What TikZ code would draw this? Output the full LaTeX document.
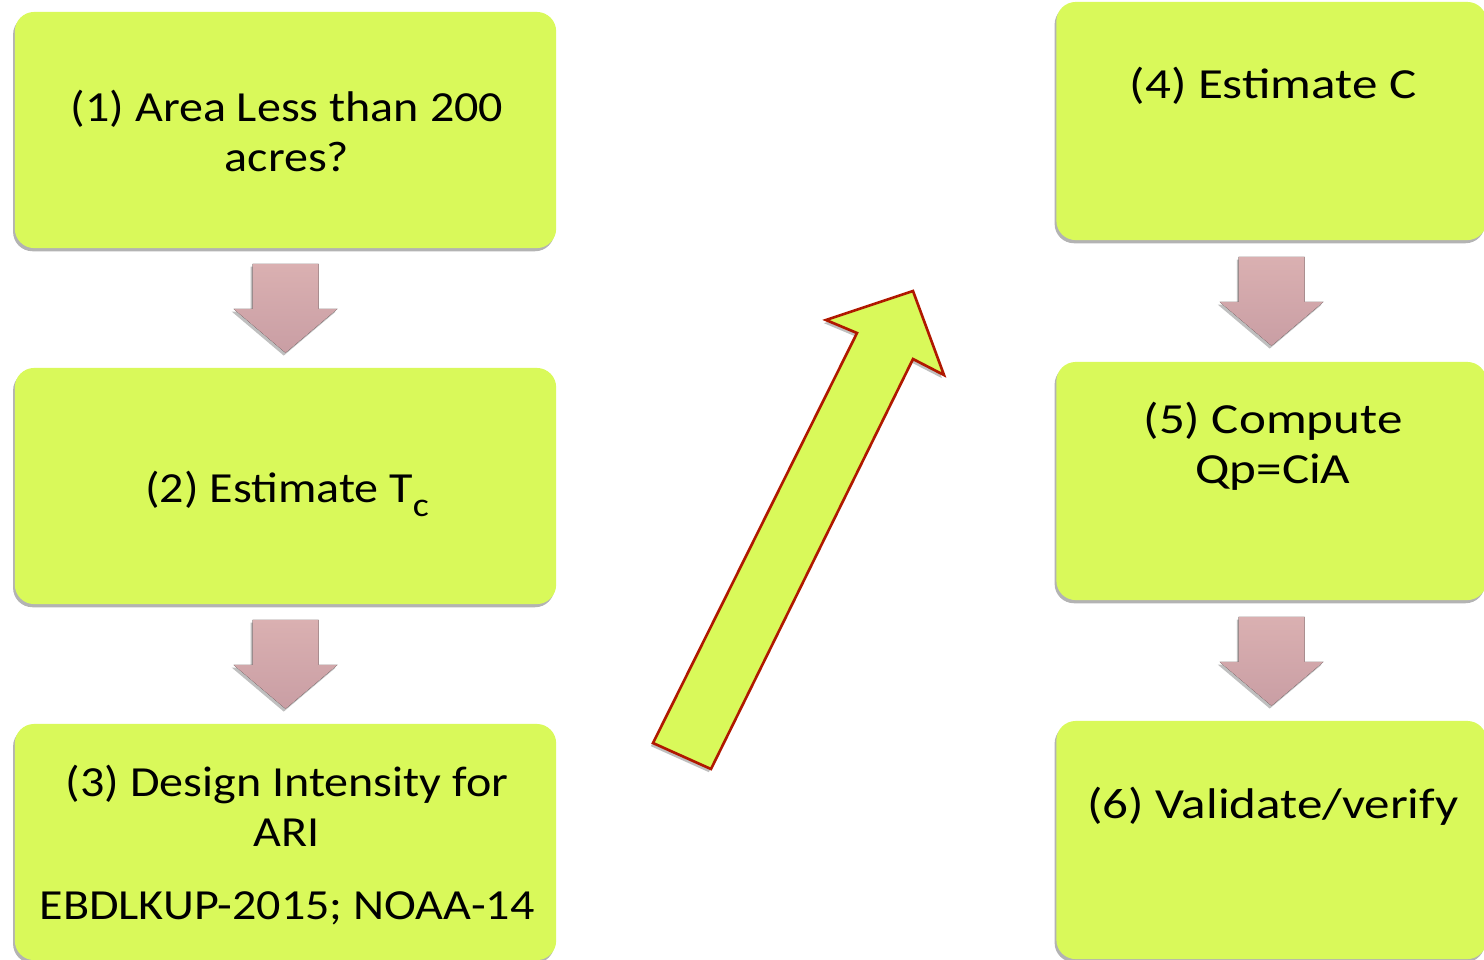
\documentclass[tikz,border=0pt]{standalone}
\usepackage{fontspec}
\setmainfont{Carlito}
\newfontfamily\leftfont{Carlito}[FakeStretch=1.12]
\newfontfamily\rightfont{Carlito}[FakeStretch=1.19]
\usetikzlibrary{shadows,calc}

\definecolor{boxgreen}{RGB}{217,249,90}
\definecolor{arrowtop}{RGB}{218,176,177}
\definecolor{arrowbot}{RGB}{201,158,164}
\definecolor{arrowred}{RGB}{176,24,0}

\begin{document}
\begin{tikzpicture}[x=0.01cm,y=-0.01cm,
    stepbox/.style={fill=boxgreen,rounded corners=5.5pt,inner sep=0pt,
      minimum width=5.41cm,minimum height=2.36cm,
      drop shadow={shadow xshift=-0.5pt,shadow yshift=-0.9pt,opacity=0.6}},
    rightbox/.style={stepbox,minimum width=4.30cm,minimum height=2.38cm},
    txt/.style={align=center,font=\leftfont\fontsize{12.2}{14.2}\selectfont},
    txtr/.style={txt,font=\rightfont\fontsize{12.2}{14.2}\selectfont},
    pics/downarr/.style={code={
      \fill[top color=arrowtop,bottom color=arrowbot,
        drop shadow={shadow xshift=-0.5pt,shadow yshift=-0.8pt,opacity=0.5}]
        (-33,0) -- (33,0) -- (33,45) -- (52,45) -- (0,89) -- (-52,45) -- (-33,45) -- cycle;}}]
  \useasboundingbox (0,0) rectangle (1484,959);
  \clip (0,0) rectangle (1484,959);
  % Left column
  \node[stepbox] (b1) at (285.5,130) {};
  \node[stepbox] (b2) at (285.5,486) {};
  \node[stepbox] (b3) at (285.5,842) {};
  \node[txt] (t1) at (287,131) {(1) Area Less than 200\\acres?};
  \node[txt] (t2) at (287,490) {(2) Estimate T\smash{\raisebox{-3.8pt}{\fontsize{9.6}{10}\selectfont c}}};
  \node[txt] (t3) at (287,845) {(3) Design Intensity for\\ARI\\[6.5pt]EBDLKUP-2015; NOAA-14};
  \pic at ($(b1.south)+(0,15)$) {downarr};
  \pic at ($(b2.south)+(0,15)$) {downarr};
  % Right column
  \node[rightbox] (b4) at (1271.5,121) {};
  \node[rightbox] (b5) at (1271.5,481) {};
  \node[rightbox] (b6) at (1271.5,840) {};
  \node[txtr] (t4) at (1273,86) {(4) Estimate C};
  \node[txtr] (t5) at (1273,446) {(5) Compute\\Qp=CiA};
  \node[txtr] (t6) at (1273,806) {(6) Validate/verify};
  \pic at ($(b4.south)+(0,16)$) {downarr};
  \pic at ($(b5.south)+(0,16)$) {downarr};
  % Jump from (3) to (4)
  \filldraw[fill=boxgreen,draw=arrowred,line width=0.75pt,line join=miter,
    drop shadow={shadow xshift=-0.6pt,shadow yshift=-0.9pt,opacity=0.5}]
    (653,743) -- (857,333) -- (826,320) -- (913,291) -- (944,375)
    -- (913,359) -- (711,769) -- cycle;
\end{tikzpicture}
\end{document}
